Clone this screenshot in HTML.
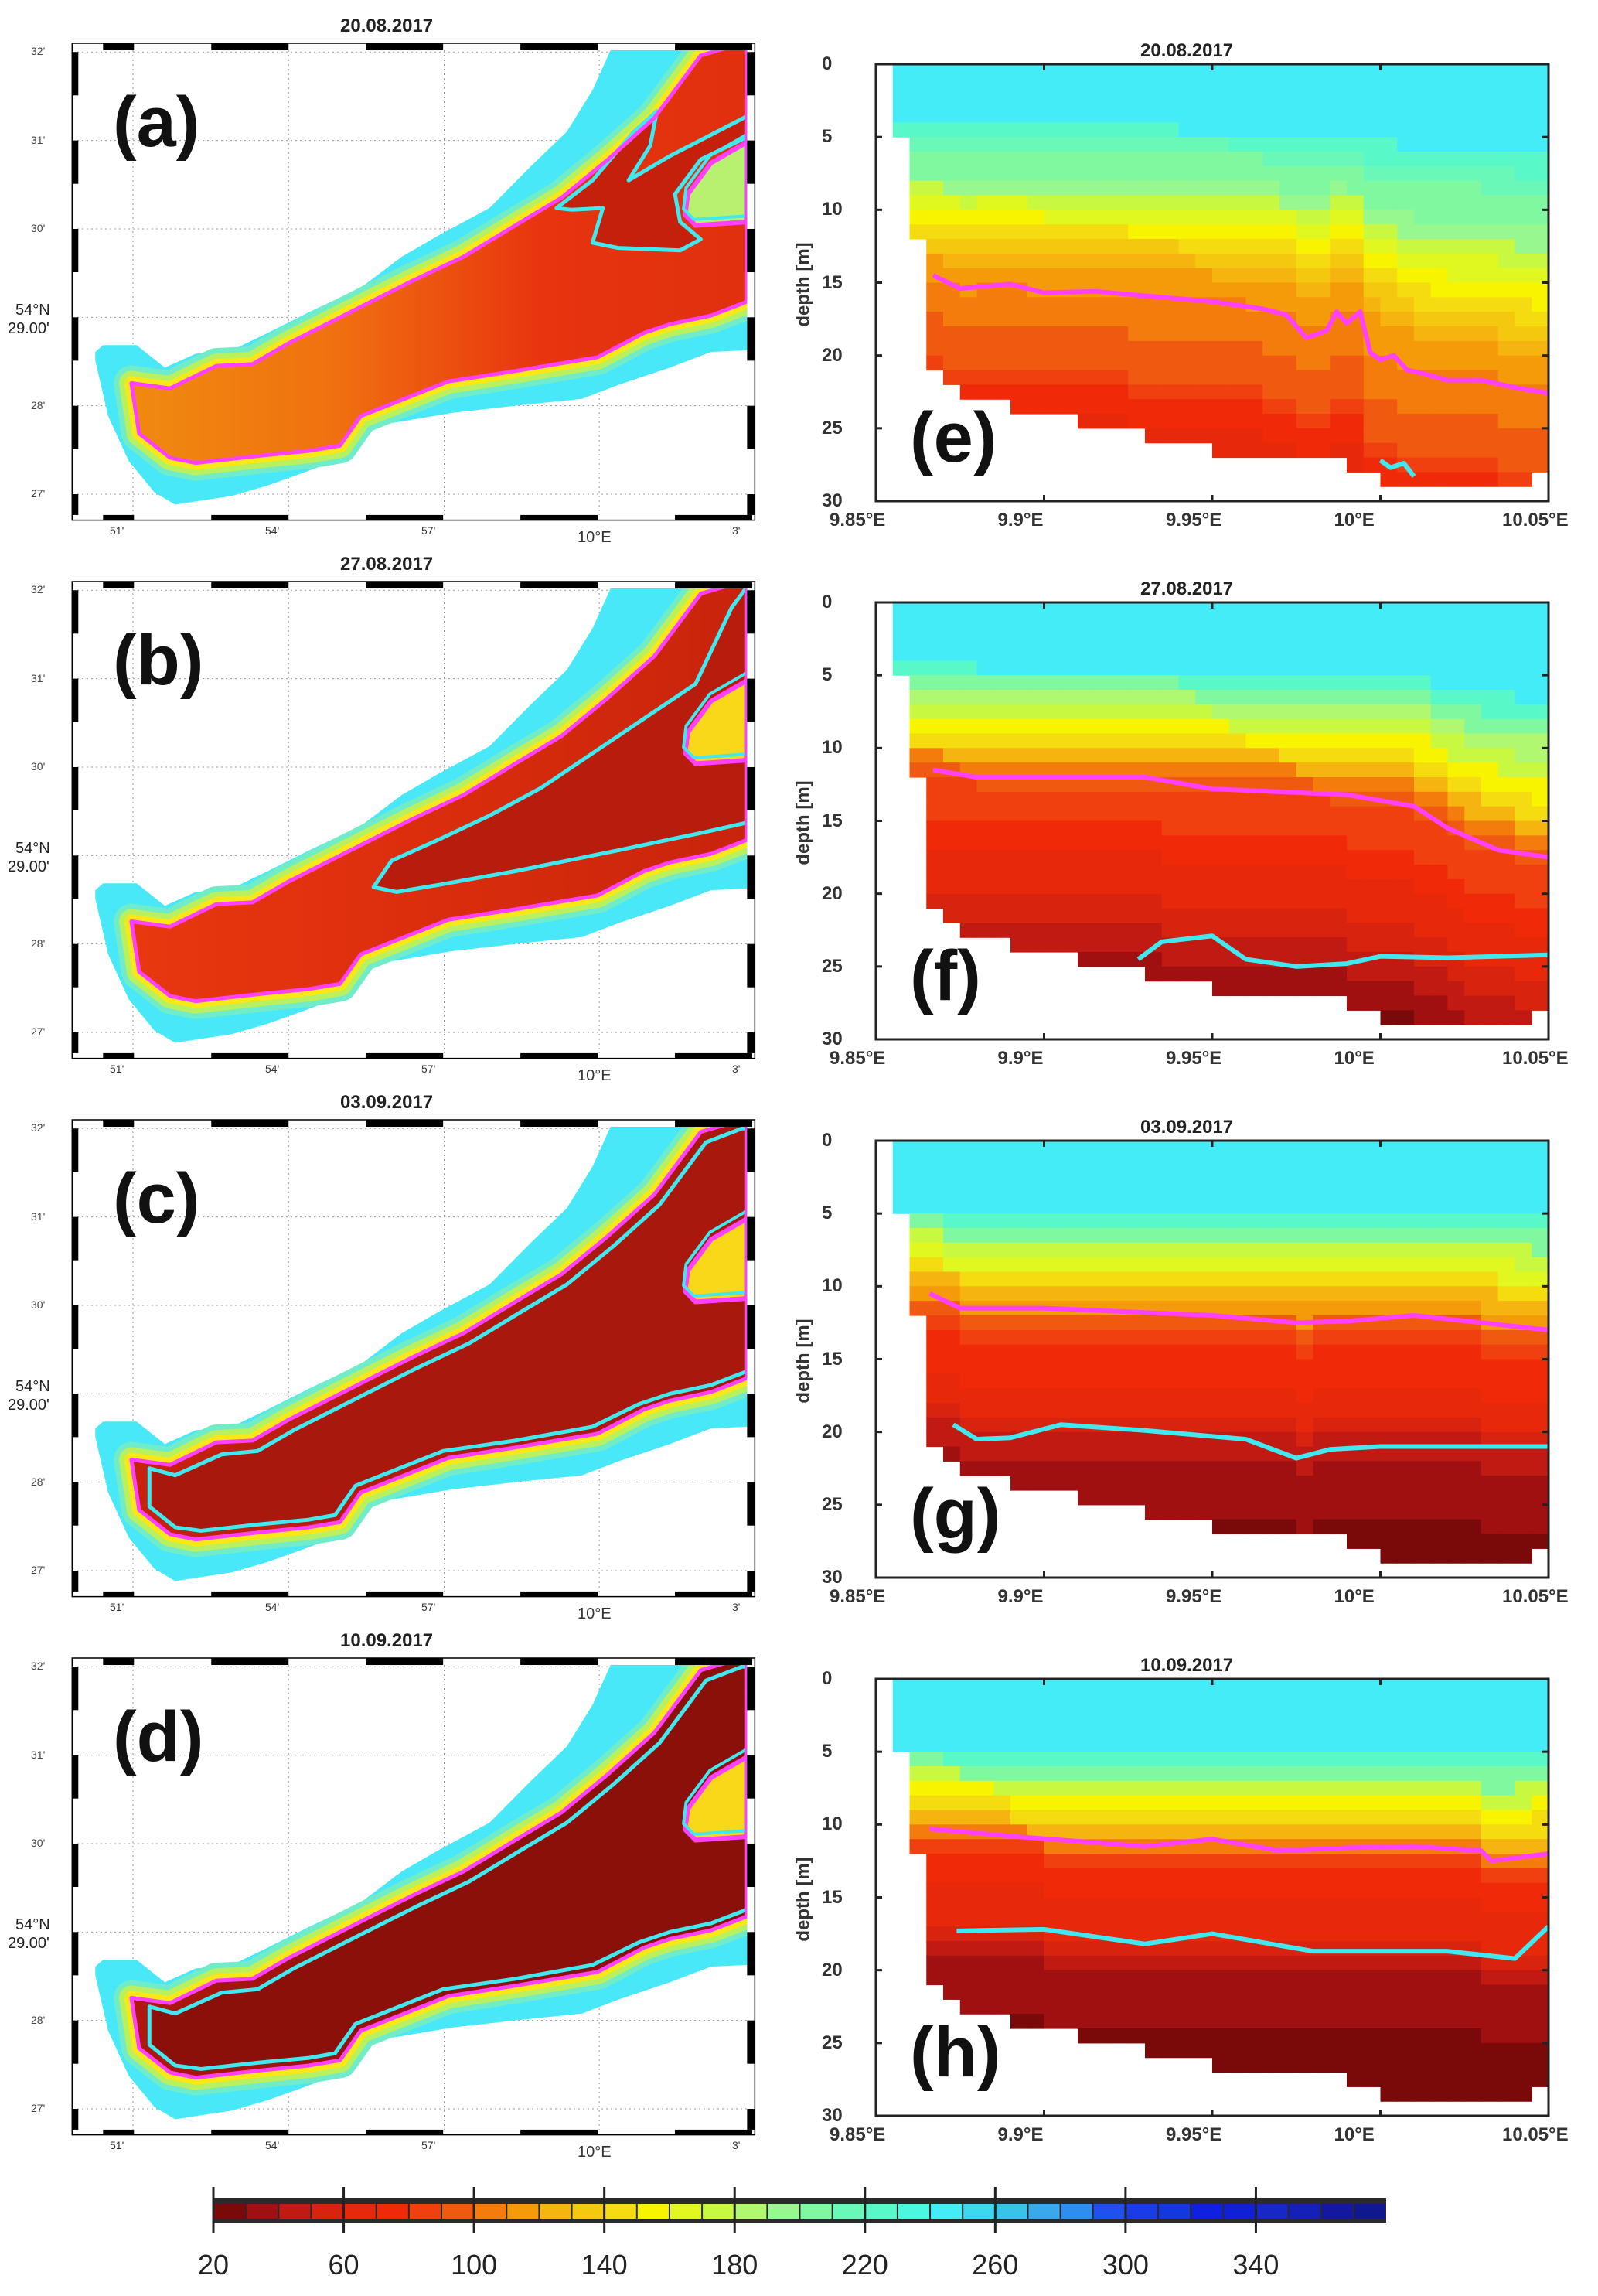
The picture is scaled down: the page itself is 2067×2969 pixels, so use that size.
<!DOCTYPE html>
<html><head><meta charset="utf-8">
<style>
html,body{margin:0;padding:0;background:#fff;}
body{width:2067px;height:2969px;position:relative;overflow:hidden;font-family:"Liberation Sans",sans-serif;}
.t{position:absolute;white-space:nowrap;color:#222;}
.row{position:absolute;left:0;width:2067px;height:700px;}
.big{position:absolute;font-weight:bold;font-size:92px;color:#111;line-height:1;}
</style></head>
<body>
<div id="maps"></div>
<div id="sections"></div>
<svg id="cbar" width="2067" height="2969" style="position:absolute;left:0;top:0;pointer-events:none"></svg>
<script>
// ---------------- data ----------------
const dates = ["20.08.2017","27.08.2017","03.09.2017","10.09.2017"];
const mapLabels = ["(a)","(b)","(c)","(d)"];
const secLabels = ["(e)","(f)","(g)","(h)"];
const cbTicks = [20,60,100,140,180,220,260,300,340];
const cbColors = ["#7a0a0a","#a01010","#c01a12","#d8240f","#e8280a","#f02a08","#f04010","#f05a10","#f47c0c","#f59a08","#f5b410","#f5c810","#f5dc10","#f8f400","#e0f820","#c8f840","#b0f870","#98f890","#80f8a0","#6af8b8","#58f8c8","#4af8e0","#44ecf8","#3cd8f0","#38c4e8","#3aa8ec","#2e8ef0","#2050f0","#1a3ce8","#1438e0","#1020e0","#1020d8","#1828c8","#1420b8","#1418a0","#101890"];
const xTicks = [9.85,9.9,9.95,10.0,10.05];
const xTickLabels = ["9.85°E","9.9°E","9.95°E","10°E","10.05°E"];
const yTicks = [0,5,10,15,20,25,30];
const bottomDepth = [0,5,12,21,22,23,23,23,24,24,24,24,25,25,25,25,26,26,26,26,27,27,27,27,27,27,27,27,28,28,29,29,29,29,29,29,29,29,29,28];
const profiles = [
 [245,245,245,245,245,225,215,205,200,190,175,165,150,140,130,120,112,110,108,105,100,95,92,90,80,75,70,65,62,60],
 [245,245,245,245,240,225,205,185,170,155,140,125,105,92,88,85,80,75,70,65,62,60,55,50,45,40,36,32,28,25],
 [245,245,245,245,240,225,200,175,160,140,125,110,95,80,75,72,70,66,62,55,45,40,38,35,32,30,28,26,24,22],
 [245,245,245,245,240,225,200,175,155,140,120,100,85,78,72,68,64,60,55,45,38,35,32,30,28,26,24,22,21,20]
];
const magLon = [
 [9.867,9.875,9.89,9.9,9.915,9.93,9.95,9.965,9.972,9.978,9.984,9.987,9.99,9.994,9.997,10.0,10.004,10.008,10.012,10.02,10.03,10.04,10.05],
 [9.867,9.88,9.9,9.93,9.95,9.97,9.99,10.01,10.02,10.035,10.05],
 [9.866,9.875,9.9,9.93,9.95,9.975,9.99,10.01,10.03,10.05],
 [9.866,9.89,9.93,9.95,9.97,9.99,10.01,10.03,10.033,10.05]
];
const magDep = [
 [14.5,15.4,15.1,15.7,15.6,15.9,16.3,16.8,17.2,18.8,18.3,17.0,17.8,17.0,19.8,20.3,20.0,21.0,21.2,21.7,21.7,22.2,22.6],
 [11.5,12.0,12.0,12.0,12.8,13.0,13.2,14.0,15.5,17.0,17.5],
 [10.5,11.5,11.5,11.8,12.0,12.5,12.4,12.0,12.5,13.0],
 [10.3,10.8,11.5,11.0,11.8,11.6,11.5,11.8,12.5,12.0]
];
const cyaLon = [
 [10.0,10.003,10.007,10.01],
 [9.928,9.935,9.95,9.96,9.975,9.99,10.0,10.02,10.05],
 [9.873,9.88,9.89,9.905,9.93,9.96,9.975,9.985,10.0,10.05],
 [9.874,9.9,9.93,9.95,9.98,10.02,10.04,10.05]
];
const cyaDep = [
 [27.2,27.7,27.4,28.3],
 [24.5,23.3,22.9,24.5,25.0,24.8,24.3,24.4,24.2],
 [19.5,20.5,20.4,19.5,19.9,20.5,21.8,21.2,21.0,21.0],
 [17.3,17.2,18.2,17.5,18.7,18.7,19.2,17.0]
];
// ---------------- helpers ----------------
const NS = "http://www.w3.org/2000/svg";
function mk(tag, attrs, parent){const e=document.createElementNS(NS,tag);for(const k in attrs)e.setAttribute(k,attrs[k]);parent.appendChild(e);return e;}
function colorOf(v){let i=Math.floor((v-20)/10);i=Math.max(0,Math.min(cbColors.length-1,i));return cbColors[i];}
function txt(parent,s,x,y,size,opts){const d=document.createElement("div");d.className="t";d.textContent=s;d.style.fontSize=size+"px";d.style.left=x+"px";d.style.top=y+"px";if(opts)Object.assign(d.style,opts);parent.appendChild(d);return d;}

// ---------------- maps ----------------
const outerPts="185,1015 200,995 265,995 320,1060 380,1020 450,1010 520,960 600,900 700,830 780,740 850,680 950,600 1030,480 1100,380 1150,260 1185,145 1450,145 1450,1010 1380,1015 1300,1060 1200,1110 1130,1150 1000,1170 880,1190 720,1230 650,1330 520,1400 450,1430 340,1455 300,1420 250,1330 210,1200 185,1040";
const magPts="255,1105 330,1120 420,1055 490,1050 560,990 680,900 800,810 900,740 1000,650 1090,570 1180,460 1270,340 1360,160 1440,125 1450,145 1450,870 1380,910 1300,935 1250,960 1160,1030 1000,1070 870,1100 700,1200 660,1285 600,1300 500,1315 380,1335 330,1320 270,1250";
const cyanPts=[
 "1080,600 1150,520 1230,380 1275,320 1262,420 1220,520 1300,450 1450,335 1450,395 1360,460 1310,560 1320,640 1360,690 1320,722 1200,715 1150,700 1170,600 1110,605",
 "725,1006 760,930 850,870 950,800 1050,720 1150,620 1250,520 1350,420 1420,200 1450,140 1450,820 1360,850 1200,900 1000,960 850,1000 770,1020",
 "290,1130 340,1150 430,1090 500,1080 570,1020 690,930 810,840 910,770 1010,680 1100,600 1190,490 1280,370 1370,190 1440,150 1450,150 1450,850 1380,890 1300,915 1240,945 1150,1010 1000,1050 860,1080 690,1180 650,1265 600,1278 500,1292 390,1310 340,1300 290,1240",
 "290,1130 340,1150 430,1090 500,1080 570,1020 690,930 810,840 910,770 1010,680 1100,600 1190,490 1280,370 1370,190 1440,150 1450,150 1450,850 1380,890 1300,915 1240,945 1150,1010 1000,1050 860,1080 690,1180 650,1265 600,1278 500,1292 390,1310 340,1300 290,1240"
];
const bodyGrad=[["#f08a10","#f07010","#e8340f","#e0300e"],["#e8380f","#e0300e","#d42a0c","#c8240c"],["#c8220e","#b81c0e","#ac1a0e","#a8180c"],["#b0180e","#98120c","#8e100a","#8e100a"]];
const innerFill=["#c4200c","#b81c0c","#a8180c","#8c100a"];
const pocketPts="1450,410 1380,470 1335,560 1330,620 1350,650 1450,640";
const mapsDiv=document.getElementById("maps");
for(let p=0;p<4;p++){
  const row=document.createElement("div");row.className="row";row.style.top=(p*696)+"px";
  
  
  mapsDiv.appendChild(row);
  const svg=mk("svg",{width:1033,height:700,viewBox:"0 0 1550 1561",preserveAspectRatio:"none",style:"position:absolute;left:0;top:0"},row);
  const defs=mk("defs",{},svg);
  const cp=mk("clipPath",{id:"clip"+p},defs);mk("rect",{x:150,y:145,width:1300,height:1340},cp);
  const lg=mk("linearGradient",{id:"bg"+p,x1:"0",y1:"0",x2:"1",y2:"0"},defs);
  bodyGrad[p].forEach((c,i)=>mk("stop",{offset:(i/3),"stop-color":c},lg));
  [258,560,862,1163].forEach(x=>{const l=mk("line",{x1:x,y1:145,x2:x,y2:1485,stroke:"#999","stroke-dasharray":"2 4","vector-effect":"non-scaling-stroke","stroke-width":1},svg);});
  [150,405,660,915,1170,1425].forEach(y=>{const l=mk("line",{x1:150,y1:y,x2:1450,y2:y,stroke:"#999","stroke-dasharray":"2 4","vector-effect":"non-scaling-stroke","stroke-width":1},svg);});
  const g=mk("g",{"clip-path":"url(#clip"+p+")"},svg);
  const outer=mk("polygon",{points:outerPts,fill:"#48e8f8"},g);
  
  
  mk("polygon",{points:magPts,fill:"none",stroke:"#70ecc8","stroke-width":46,"vector-effect":"non-scaling-stroke","stroke-linejoin":"round"},g);
  mk("polygon",{points:magPts,fill:"none",stroke:"#b8f060","stroke-width":32,"vector-effect":"non-scaling-stroke","stroke-linejoin":"round"},g);
  mk("polygon",{points:magPts,fill:"none",stroke:"#f8e818","stroke-width":18,"vector-effect":"non-scaling-stroke","stroke-linejoin":"round"},g);
  const body=mk("polygon",{points:magPts,fill:"url(#bg"+p+")"},g);
  
  
  const cy=mk("polygon",{points:cyanPts[p],fill:innerFill[p],stroke:"#40e8f0","stroke-width":5,"vector-effect":"non-scaling-stroke","stroke-linejoin":"round"},g);
  
  
  const pk=mk("polygon",{points:pocketPts,fill:p==0?"#b8f070":"#f8d818",stroke:"#ff40ff","stroke-width":6,"vector-effect":"non-scaling-stroke"},g);
  
  
  mk("polygon",{points:pocketPts,fill:"none",stroke:"#40e8f0","stroke-width":4,"vector-effect":"non-scaling-stroke",transform:"translate(-30,-30) scale(1.02)"},g);
  const mg=mk("polygon",{points:magPts,fill:"none",stroke:"#ff40ff","stroke-width":5,"vector-effect":"non-scaling-stroke","stroke-linejoin":"round"},g);
  
  
  const fr=mk("g",{},svg);
  
  
  mk("rect",{x:140,y:125,width:1325,height:1375,fill:"none",stroke:"#000","stroke-width":1.5,"vector-effect":"non-scaling-stroke"},fr);
  [[200,260],[410,560],[710,860],[1010,1160],[1310,1460]].forEach(s=>{
    mk("rect",{x:s[0],y:125,width:s[1]-s[0],height:20,fill:"#000"},fr);
    mk("rect",{x:s[0],y:1485,width:s[1]-s[0],height:15,fill:"#000"},fr);
  });
  [[150,275],[405,530],[660,785],[915,1040],[1170,1295],[1425,1485]].forEach(s=>{
    mk("rect",{x:140,y:s[0],width:12,height:s[1]-s[0],fill:"#000"},fr);
    mk("rect",{x:1450,y:s[0],width:15,height:s[1]-s[0],fill:"#000"},fr);
  });
  const tt=txt(row,dates[p],440,20,24,{fontWeight:"bold",width:190,textAlign:"center"});
  
  
  const bl=document.createElement("div");bl.className="big";bl.textContent=mapLabels[p];bl.style.left="146px";bl.style.top="112px";row.appendChild(bl);
  
  
  [["32'",67],["31'",182],["30'",296],["28'",525],["27'",639]].forEach(a=>{const d=txt(row,a[0],40,a[1]-9,14,{width:48,textAlign:"right",color:"#444"});});
  const n1=txt(row,"54°N",20,390,20,{width:65,textAlign:"right"});
  const n2=txt(row,"29.00'",10,414,20,{width:75,textAlign:"right"});
  [["51'",172,678,14],["54'",373,678,14],["57'",575,678,14],["10°E",777,684,20],["3'",977,678,14]].forEach(a=>{const d=txt(row,a[0],a[1]-30,a[2],a[3],{width:60,textAlign:"center",color:"#333"});});
}

// ---------------- sections ----------------
const AX0=1133,AX1=2003,AY0=83,AY1=648;
function xS(lon){return AX0+(lon-9.85)/0.2*(AX1-AX0);}
function yS(d){return AY0+d/30*(AY1-AY0);}
function interp(xs,ys,x){if(x<=xs[0])return ys[0];for(let i=1;i<xs.length;i++){if(x<=xs[i]){const t=(x-xs[i-1])/(xs[i]-xs[i-1]);return ys[i-1]+t*(ys[i]-ys[i-1]);}}return ys[ys.length-1];}
const secDiv=document.getElementById("sections");
for(let p=0;p<4;p++){
  const row=document.createElement("div");row.className="row";row.style.top=(p*696)+"px";
  
  
  secDiv.appendChild(row);
  const svg=mk("svg",{width:2067,height:700,style:"position:absolute;left:0;top:0"},row);
  const mMean=magDep[p].reduce((a,b)=>a+b,0)/magDep[p].length;
  for(let i=0;i<bottomDepth.length;i++){
    const lon=9.85+0.005*i, lc=lon+0.0025;
    const shift=interp(magLon[p],magDep[p],lc)-mMean;
    for(let d=0;d<bottomDepth[i];d++){
      let idx=Math.round(d-shift*Math.min(1,d/mMean));
      idx=Math.max(0,Math.min(29,idx));
      const c=mk("rect",{x:xS(lon),y:yS(d),width:xS(lon+0.005)-xS(lon)+0.6,height:yS(d+1)-yS(d)+0.6,fill:colorOf(profiles[p][idx])},svg);
      
      
    }
  }
  const mp=mk("polyline",{points:magLon[p].map((l,i)=>xS(l)+","+yS(magDep[p][i])).join(" "),fill:"none",stroke:"#ff40ff","stroke-width":6,"stroke-linejoin":"round"},svg);
  
  
  const cl=mk("polyline",{points:cyaLon[p].map((l,i)=>xS(l)+","+yS(cyaDep[p][i])).join(" "),fill:"none",stroke:"#40e8f0","stroke-width":6,"stroke-linejoin":"round"},svg);
  
  
  const ax=mk("rect",{x:AX0,y:AY0,width:AX1-AX0,height:AY1-AY0,fill:"none",stroke:"#222","stroke-width":3},svg);
  
  
  xTicks.forEach((v,i)=>{
    mk("line",{x1:xS(v),y1:AY1,x2:xS(v),y2:AY1-8,stroke:"#222","stroke-width":3},svg);
    mk("line",{x1:xS(v),y1:AY0,x2:xS(v),y2:AY0+8,stroke:"#222","stroke-width":3},svg);
    const t=txt(row,xTickLabels[i],xS(v)-60,659,24,{width:120,textAlign:"center",fontWeight:"bold",color:"#333"});
    
    
  });
  yTicks.forEach(v=>{
    mk("line",{x1:AX0,y1:yS(v),x2:AX0+8,y2:yS(v),stroke:"#222","stroke-width":3},svg);
    mk("line",{x1:AX1,y1:yS(v),x2:AX1-8,y2:yS(v),stroke:"#222","stroke-width":3},svg);
    const t=txt(row,String(v),AX0-70,yS(v)-14,24,{width:58,textAlign:"right",fontWeight:"bold",color:"#333"});
    
    
  });
  const tt=txt(row,dates[p],1475,52,24,{fontWeight:"bold",width:190,textAlign:"center"});
  
  
  const yl=txt(row,"depth   [m]",985,354,24,{fontWeight:"bold",width:140,textAlign:"center",transform:"rotate(-90deg)",color:"#333"});
  
  
  const bl=document.createElement("div");bl.className="big";bl.textContent=secLabels[p];bl.style.left="1177px";bl.style.top="520px";row.appendChild(bl);
  
  
}

// ---------------- colorbar ----------------
const cb=document.getElementById("cbar");
const CB0=276,CB1=1793;
function cbX(v){return CB0+(v-20)/360*(CB1-CB0);}
const cbBg=mk("rect",{x:CB0,y:2842,width:CB1-CB0,height:32,fill:"#2a2a2a"},cb);


cbColors.forEach((c,i)=>{
  const r=mk("rect",{x:cbX(20+10*i)+1,y:2850,width:cbX(30)-cbX(20)-2,height:19,fill:c},cb);
  
  
});
cbTicks.forEach(v=>{
  mk("line",{x1:cbX(v),y1:2828,x2:cbX(v),y2:2888,stroke:"#222","stroke-width":3},cb);
  const t=mk("text",{x:cbX(v),y:2941,"font-size":36,"text-anchor":"middle","font-family":"Liberation Sans, sans-serif",fill:"#222"},cb);
  t.textContent=String(v);
  
  
});
</script>
</body></html>
